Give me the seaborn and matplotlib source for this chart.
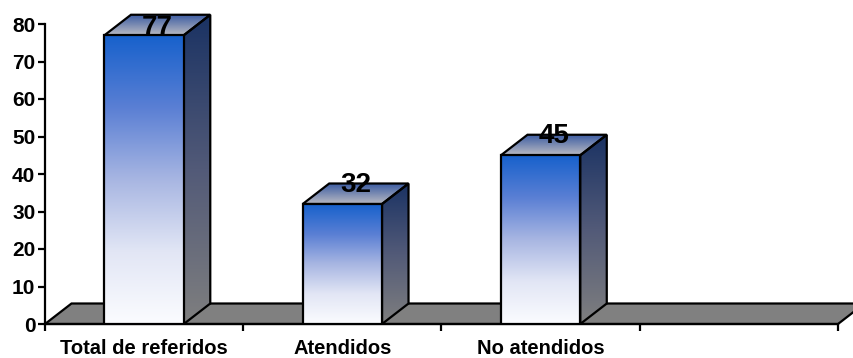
import numpy as np
import matplotlib
matplotlib.use("Agg")
import matplotlib.pyplot as plt
from matplotlib.colors import LinearSegmentedColormap
from matplotlib.patches import Polygon
import pandas as pd
import seaborn as sns

# Data
categories = ["Total de referidos", "Atendidos", "No atendidos"]
values = [77, 32, 45]
y_ticks = [0, 10, 20, 30, 40, 50, 60, 70, 80]

sns.set_style("ticks")
plt.rcParams["font.family"] = ["Liberation Sans", "DejaVu Sans"]
plt.rcParams["font.weight"] = "bold"
plt.rcParams["axes.edgecolor"] = "black"
plt.rcParams["xtick.color"] = "black"
plt.rcParams["ytick.color"] = "black"

W, H = 854, 358
fig = plt.figure(figsize=(W / 100, H / 100), dpi=100)

# layout in pixels
x_left, x_right = 45, 838
y_base, y_top = 324, 24
n_slots = 4
y_max_axis = 80
y_view = 86
px_per_unit = (y_base - y_top) / y_max_axis
ax_top_px = y_base - y_view * px_per_unit
ax = fig.add_axes([x_left / W, (H - y_base) / H,
                   (x_right - x_left) / W, (y_base - ax_top_px) / H])

df = pd.DataFrame({"categoria": categories, "casos": values})
sns.barplot(data=df, x="categoria", y="casos", order=categories,
            width=0.4, color="white", edgecolor="black", linewidth=1.6,
            ax=ax, zorder=6)
bars = list(ax.patches)
for b in bars:
    b.set_facecolor("none")

ax.set_xlim(-0.5, n_slots - 0.5)
ax.set_ylim(0, y_view)

# 3-D depth offsets in data units
slot_px = (x_right - x_left) / n_slots
dx = 26.5 / slot_px
dy = 20.5 / px_per_unit

front_cmap = LinearSegmentedColormap.from_list(
    "front", [(0.0, "#fbfcff"), (0.25, "#e2e6f5"), (0.5, "#a8b6e2"),
              (0.75, "#5a7fd4"), (1.0, "#1761cc")])
side_cmap = LinearSegmentedColormap.from_list(
    "side", [(0.0, "#7f7f7f"), (0.5, "#525a78"), (1.0, "#1a3263")])
top_cmap = LinearSegmentedColormap.from_list(
    "top", [(0.0, "#b8bac2"), (1.0, "#3a5aa2")])
grad = np.linspace(0, 1, 256).reshape(-1, 1)

# floor
floor = Polygon([(-0.5, 0), (n_slots - 0.5, 0), (n_slots - 0.5 + dx, dy),
                 (-0.5 + dx, dy)], closed=True, facecolor="#808080",
                edgecolor="black", linewidth=1.6, zorder=1, clip_on=False)
ax.add_patch(floor)


def shaded(poly_pts, extent, cmap, z):
    poly = Polygon(poly_pts, closed=True, facecolor="none",
                   edgecolor="black", linewidth=1.6, zorder=z + 0.5,
                   joinstyle="miter")
    ax.add_patch(poly)
    im = ax.imshow(grad, cmap=cmap, extent=extent, origin="lower",
                   aspect="auto", interpolation="bilinear", zorder=z)
    im.set_clip_path(poly)


for b, v in zip(bars, values):
    x0 = b.get_x()
    x1 = x0 + b.get_width()
    h = b.get_height()
    # side face
    shaded([(x1, 0), (x1 + dx, dy), (x1 + dx, h + dy), (x1, h)],
           [x1, x1 + dx, 0, h + dy], side_cmap, 3)
    # top face
    shaded([(x0, h), (x1, h), (x1 + dx, h + dy), (x0 + dx, h + dy)],
           [x0, x1 + dx, h, h + dy], top_cmap, 3)
    # front face
    im = ax.imshow(grad, cmap=front_cmap, extent=[x0, x1, 0, h],
                   origin="lower", aspect="auto", interpolation="bilinear",
                   zorder=5)
    im.set_clip_path(b)
    cx = x0 + b.get_width() / 2
    ax.text(cx + dx / 2, min(v + 5.2, 79.0), f"{v}", ha="center",
            va="center", fontsize=20, fontweight="bold", color="black",
            zorder=10)

ax.set_xlim(-0.5, n_slots - 0.5)
ax.set_ylim(0, y_view)

# axes styling
for s in ["top", "right"]:
    ax.spines[s].set_visible(False)
ax.spines["left"].set_bounds(0, y_max_axis)
ax.spines["bottom"].set_bounds(-0.5, n_slots - 0.5)
for s in ["left", "bottom"]:
    ax.spines[s].set_linewidth(1.6)
    ax.spines[s].set_zorder(2.5)

ax.set_yticks(y_ticks)
ax.set_yticklabels([str(t) for t in y_ticks])
ax.tick_params(axis="y", direction="out", length=5, width=1.6, pad=2,
               labelsize=15)
ax.set_xticks(np.arange(n_slots + 1) - 0.5)
ax.set_xticklabels([])
ax.set_xticks(np.arange(len(categories)), minor=True)
ax.set_xticklabels(categories, minor=True)
ax.tick_params(axis="x", which="major", direction="out", length=5,
               width=1.6)
ax.tick_params(axis="x", which="minor", length=0, pad=11, labelsize=14.5)
for t in ax.get_yticklabels() + ax.get_xticklabels(minor=True):
    t.set_fontweight("bold")
ax.set_xlabel("")
ax.set_ylabel("")
ax.patch.set_alpha(0)

fig.savefig("out.png", dpi=100, facecolor="white")
